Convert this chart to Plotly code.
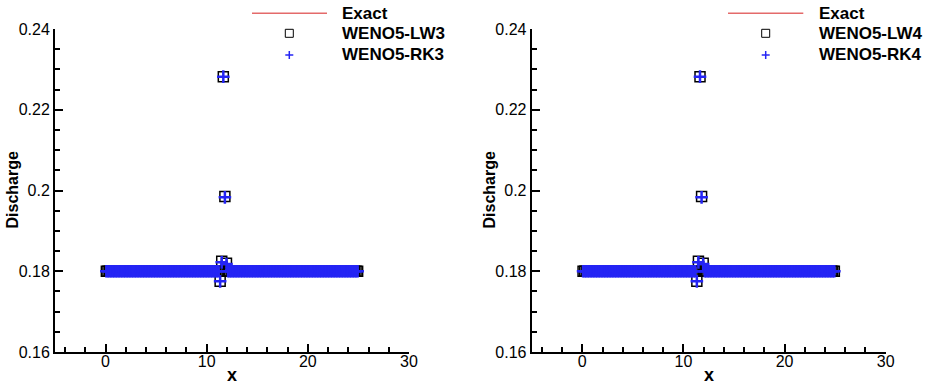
import numpy as np
import plotly.graph_objects as go

# ---- data -------------------------------------------------------------
N_CELLS = 160
X_LEFT, X_RIGHT = 0.0, 25.0
Q_STEADY = 0.18                     # steady discharge

# cells around the jump where the schemes deviate from the steady value
spike_x = [11.33, 11.48, 11.64, 11.80, 11.95]
spike_lw3 = [0.1775, 0.1825, 0.2282, 0.1985, 0.1820]
spike_rk3 = [0.1775, 0.1822, 0.2282, 0.1983, 0.1818]
spike_lw4 = [0.1775, 0.1825, 0.2282, 0.1985, 0.1820]
spike_rk4 = [0.1775, 0.1822, 0.2282, 0.1983, 0.1818]

x_ticks = [0, 10, 20, 30]
y_ticks = [0.16, 0.18, 0.20, 0.22, 0.24]
y_tick_text = ["0.16", "0.18", "0.2", "0.22", "0.24"]

panels = [
    ("Exact", "WENO5-LW3", "WENO5-RK3", spike_lw3, spike_rk3),
    ("Exact", "WENO5-LW4", "WENO5-RK4", spike_lw4, spike_rk4),
]

# ---- helpers ----------------------------------------------------------
dx = (X_RIGHT - X_LEFT) / N_CELLS
x_cells = X_LEFT + (np.arange(N_CELLS) + 0.5) * dx


def discharge(spikes):
    q = np.full(N_CELLS, Q_STEADY)
    for xs, qs in zip(spike_x, spikes):
        q[int(np.argmin(np.abs(x_cells - xs)))] = qs
    return q


W, H = 928, 384
px = lambda v: v / W
py = lambda v: 1 - v / H

FONT = "Liberation Sans, Arial, Helvetica, sans-serif"
RED = "#e46a6a"
BLUE = "#2424f4"

fig = go.Figure()

x_domains = [(55, 409), (531.7, 885.7)]
legend_geo = [  # line start, line end, symbol x, text x
    (252, 327, 289.3, 340),
    (728, 803.3, 765.7, 816.7),
]
title_x = [12, 489]

shapes, annotations = [], []

for i, (name_ex, name_a, name_b, sp_a, sp_b) in enumerate(panels):
    xa = "x" if i == 0 else "x2"
    ya = "y" if i == 0 else "y2"
    fig.add_trace(go.Scatter(
        x=x_cells, y=np.full(N_CELLS, Q_STEADY), mode="lines",
        line=dict(color=RED, width=1.5), name=name_ex,
        xaxis=xa, yaxis=ya, showlegend=False))
    fig.add_trace(go.Scatter(
        x=x_cells, y=discharge(sp_a), mode="markers", name=name_a,
        marker=dict(symbol="square-open", size=10, color="black",
                    line=dict(width=1.5, color="black")),
        xaxis=xa, yaxis=ya, showlegend=False))
    fig.add_trace(go.Scatter(
        x=x_cells, y=discharge(sp_b), mode="markers", name=name_b,
        marker=dict(symbol="cross-thin-open", size=9, color=BLUE,
                    line=dict(width=2.5, color=BLUE)),
        xaxis=xa, yaxis=ya, showlegend=False))

    # legend keys
    l0, l1, sx, tx = legend_geo[i]
    shapes.append(dict(type="line", xref="paper", yref="paper",
                       x0=px(l0), x1=px(l1), y0=py(13.3), y1=py(13.3),
                       line=dict(color=RED, width=1.5)))
    shapes.append(dict(type="rect", xref="paper", yref="paper",
                       x0=px(sx - 4), x1=px(sx + 4),
                       y0=py(33.3 + 4), y1=py(33.3 - 4),
                       line=dict(color="black", width=1)))
    shapes.append(dict(type="line", xref="paper", yref="paper",
                       x0=px(sx - 4), x1=px(sx + 4),
                       y0=py(55), y1=py(55),
                       line=dict(color=BLUE, width=1.5)))
    shapes.append(dict(type="line", xref="paper", yref="paper",
                       x0=px(sx), x1=px(sx),
                       y0=py(55 - 4), y1=py(55 + 4),
                       line=dict(color=BLUE, width=1.5)))
    for label, yy in [(name_ex, 13.3), (name_a, 33.5), (name_b, 54)]:
        annotations.append(dict(
            text=f"<b>{label}</b>", xref="paper", yref="paper",
            x=px(tx), y=py(yy), xanchor="left", yanchor="middle",
            showarrow=False, font=dict(family=FONT, size=17, color="black")))

    # axis titles
    annotations.append(dict(
        text="<b>Discharge</b>", xref="paper", yref="paper",
        x=px(title_x[i]), y=py(190.5), xanchor="center", yanchor="middle",
        textangle=-90, showarrow=False,
        font=dict(family=FONT, size=16, color="black")))
    d0, d1 = x_domains[i]
    annotations.append(dict(
        text="<b>x</b>", xref="paper", yref="paper",
        x=px((d0 + d1) / 2), y=py(375), xanchor="center", yanchor="middle",
        showarrow=False, font=dict(family=FONT, size=18, color="black")))

axis_common = dict(
    showline=True, linecolor="black", linewidth=2, mirror=False,
    showgrid=False, zeroline=False, automargin=False,
    ticks="inside", ticklen=8, tickwidth=1.5, tickcolor="black",
    tickfont=dict(family=FONT, size=16, color="black"),
)

y_dom = [1 - 352 / H, 1 - 29 / H]
layout = dict(
    template="none",
    width=W, height=H, margin=dict(l=0, r=0, t=0, b=0, pad=0),
    paper_bgcolor="white", plot_bgcolor="white",
    shapes=shapes, annotations=annotations, showlegend=False,
)
for i, (d0, d1) in enumerate(x_domains):
    sx = "" if i == 0 else "2"
    layout[f"xaxis{sx}"] = dict(
        axis_common, domain=[px(d0), px(d1)], range=[-5, 30],
        tickvals=x_ticks, anchor=f"y{sx}", ticklabelstandoff=-6,
        minor=dict(ticks="inside", ticklen=5, tickwidth=1.5,
                   tickcolor="black", dtick=2, tick0=0, showgrid=False))
    layout[f"yaxis{sx}"] = dict(
        axis_common, domain=y_dom, range=[0.16, 0.24],
        tickvals=y_ticks, ticktext=y_tick_text,
        anchor=f"x{sx}",
        minor=dict(ticks="inside", ticklen=5, tickwidth=1.5,
                   tickcolor="black", dtick=0.005, tick0=0.16,
                   showgrid=False))

fig.update_layout(**layout)
fig.write_html("out.html")
